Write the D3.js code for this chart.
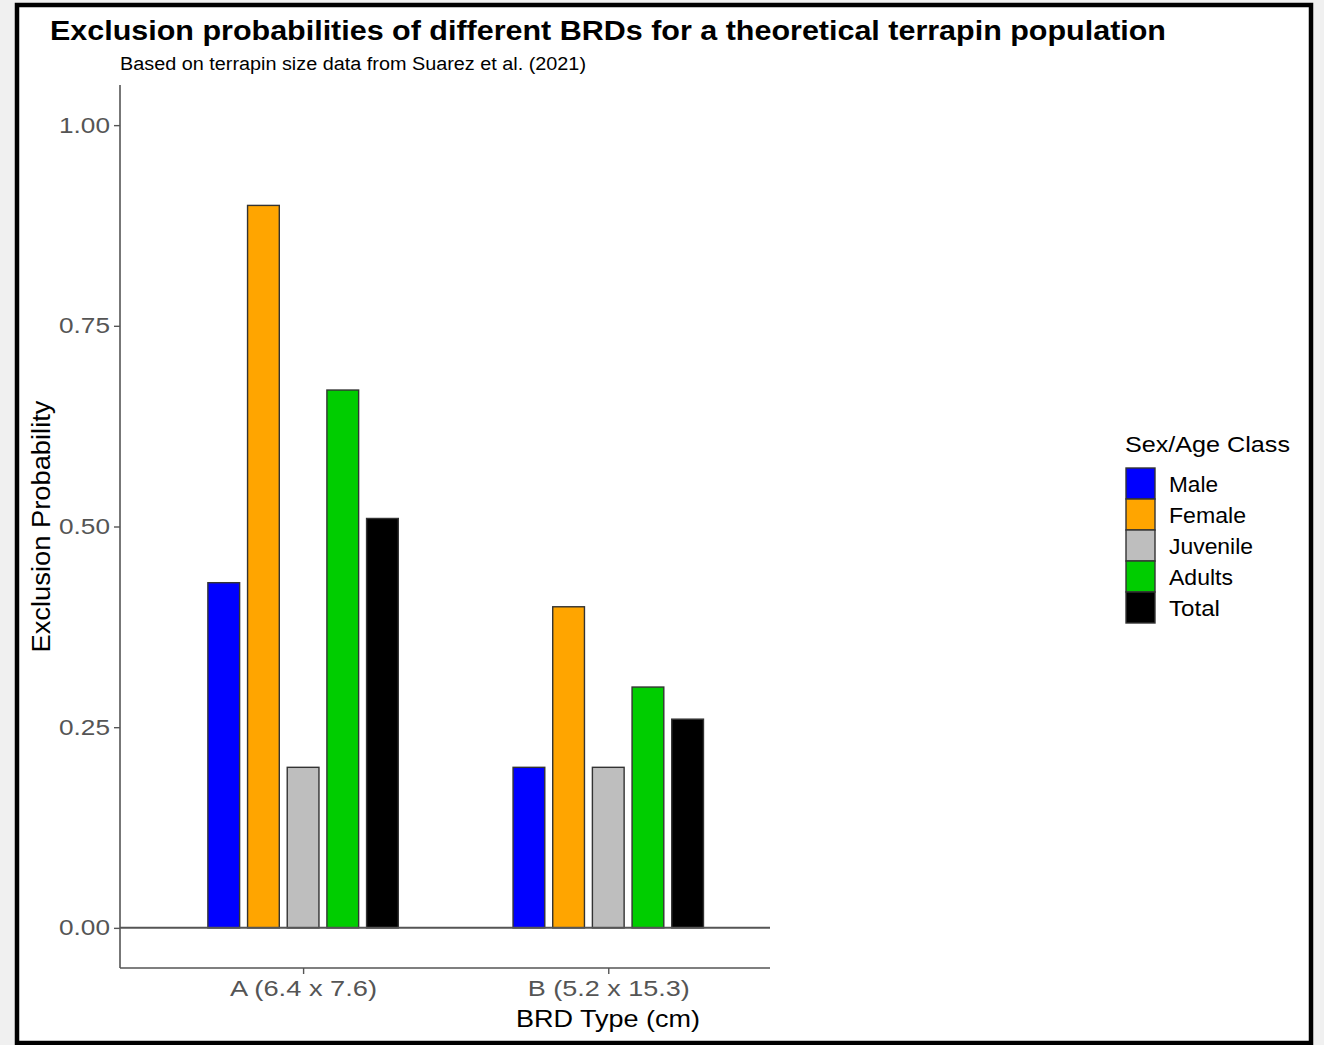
<!DOCTYPE html>
<html><head><meta charset="utf-8">
<script src="https://cdn.jsdelivr.net/npm/d3@7"></script>
<style>html,body{margin:0;padding:0;background:#f0f0f0;}svg{display:block;}</style>
</head><body><svg id="c" width="1324" height="1045"></svg>
<script>
const categories = ["A (6.4 x 7.6)", "B (5.2 x 15.3)"];
const series = ["Male", "Female", "Juvenile", "Adults", "Total"];
const colors = ["#0000ff", "#ffa500", "#bebebe", "#00cd00", "#000000"];
const valuesA = [0.43, 0.90, 0.20, 0.67, 0.51];
const valuesB = [0.20, 0.40, 0.20, 0.30, 0.26];
const yTicks = [0, 0.25, 0.5, 0.75, 1.0];
const titleText = "Exclusion probabilities of different BRDs for a theoretical terrapin population";
const subtitleText = "Based on terrapin size data from Suarez et al. (2021)";
const xTitle = "BRD Type (cm)";
const yTitle = "Exclusion Probability";
const legendTitle = "Sex/Age Class";

(function () {
const svg = d3.select("#c");
const font = "'Liberation Sans', Arial, sans-serif";
svg.append("rect").attr("x", 17).attr("y", 5).attr("width", 1294).attr("height", 1038)
  .attr("fill", "#fff").attr("stroke", "#000").attr("stroke-width", 4.5);

const pL = 120, pR = 770, pT = 85, pB = 968;
const y = d3.scaleLinear().domain([-0.05, 1.05]).range([pB, pT]);
const x = d3.scaleLinear().domain([0.4, 2.53]).range([pL, pR]);
const data = [valuesA, valuesB];
const fit = (sel, len) => sel.attr("textLength", len).attr("lengthAdjust", "spacingAndGlyphs");

fit(svg.append("text").attr("x", 50).attr("y", 40).attr("font-family", font).attr("font-weight", "bold")
  .attr("font-size", 27).attr("fill", "#000").text(titleText), 1116);
fit(svg.append("text").attr("x", 120).attr("y", 70).attr("font-family", font)
  .attr("font-size", 18).attr("fill", "#000").text(subtitleText), 466);

// bars
const g = svg.append("g");
categories.forEach((c, ci) => {
  const cx = x(ci + 1);
  const half = (x(1.325) - x(0.675)) / 2;
  const band = d3.scaleBand().domain(series).range([cx - half, cx + half]).paddingInner(0.2).paddingOuter(0.1);
  g.selectAll(null).data(series).enter().append("rect")
    .attr("x", d => band(d)).attr("width", band.bandwidth())
    .attr("y", (d, i) => y(data[ci][i])).attr("height", (d, i) => y(0) - y(data[ci][i]))
    .attr("fill", (d, i) => colors[i]).attr("stroke", "#333").attr("stroke-width", 1.4);
});
// hline at zero
svg.append("line").attr("x1", pL).attr("x2", pR).attr("y1", y(0)).attr("y2", y(0))
  .attr("stroke", "#555").attr("stroke-width", 2);

// y axis
const ya = svg.append("g").attr("transform", `translate(${pL},0)`)
  .call(d3.axisLeft(y).tickValues(yTicks).tickFormat(d3.format(".2f")).tickSize(6).tickPadding(4));
ya.select(".domain").attr("stroke", "#555").attr("stroke-width", 1.6).attr("d", `M0,${pT}V${pB}`);
ya.selectAll(".tick line").attr("stroke", "#555").attr("stroke-width", 1.4);
fit(ya.selectAll(".tick text").attr("font-family", font).attr("font-size", 22).attr("fill", "#555"), 51);

// x axis
const xa = svg.append("g").attr("transform", `translate(0,${pB})`)
  .call(d3.axisBottom(x).tickValues([1, 2]).tickFormat(d => categories[d - 1]).tickSize(6).tickPadding(6));
xa.select(".domain").attr("stroke", "#555").attr("stroke-width", 1.6).attr("d", `M${pL},0H${pR}`);
xa.selectAll(".tick line").attr("stroke", "#555").attr("stroke-width", 1.4);
xa.selectAll(".tick text").attr("font-family", font).attr("font-size", 22).attr("fill", "#555")
  .attr("textLength", d => d === 1 ? 147 : 162).attr("lengthAdjust", "spacingAndGlyphs");

fit(svg.append("text").attr("x", 608).attr("y", 1027).attr("text-anchor", "middle").attr("font-family", font)
  .attr("font-size", 24).attr("fill", "#000").text(xTitle), 184);
fit(svg.append("text").attr("transform", `translate(50,${y(0.5)}) rotate(-90)`).attr("text-anchor", "middle")
  .attr("font-family", font).attr("font-size", 25).attr("fill", "#000").text(yTitle), 252);

// legend
fit(svg.append("text").attr("x", 1125).attr("y", 452).attr("font-family", font).attr("font-size", 22)
  .attr("fill", "#000").text(legendTitle), 165);
const lg = svg.append("g").attr("transform", "translate(1126,468)");
const ly = d3.scaleBand().domain(series).range([0, 155]);
lg.selectAll("rect").data(series).enter().append("rect")
  .attr("x", 0).attr("y", d => ly(d)).attr("width", 29).attr("height", ly.bandwidth())
  .attr("fill", (d, i) => colors[i]).attr("stroke", "#333").attr("stroke-width", 1.4);
lg.selectAll("text").data(series).enter().append("text")
  .attr("x", 43).attr("y", d => ly(d) + ly.bandwidth() / 2 + 8).attr("font-family", font)
  .attr("font-size", 22).attr("fill", "#000").text(d => d)
  .attr("textLength", (d, i) => [49, 77, 84, 64, 51][i]).attr("lengthAdjust", "spacingAndGlyphs");
})();
</script></body></html>
